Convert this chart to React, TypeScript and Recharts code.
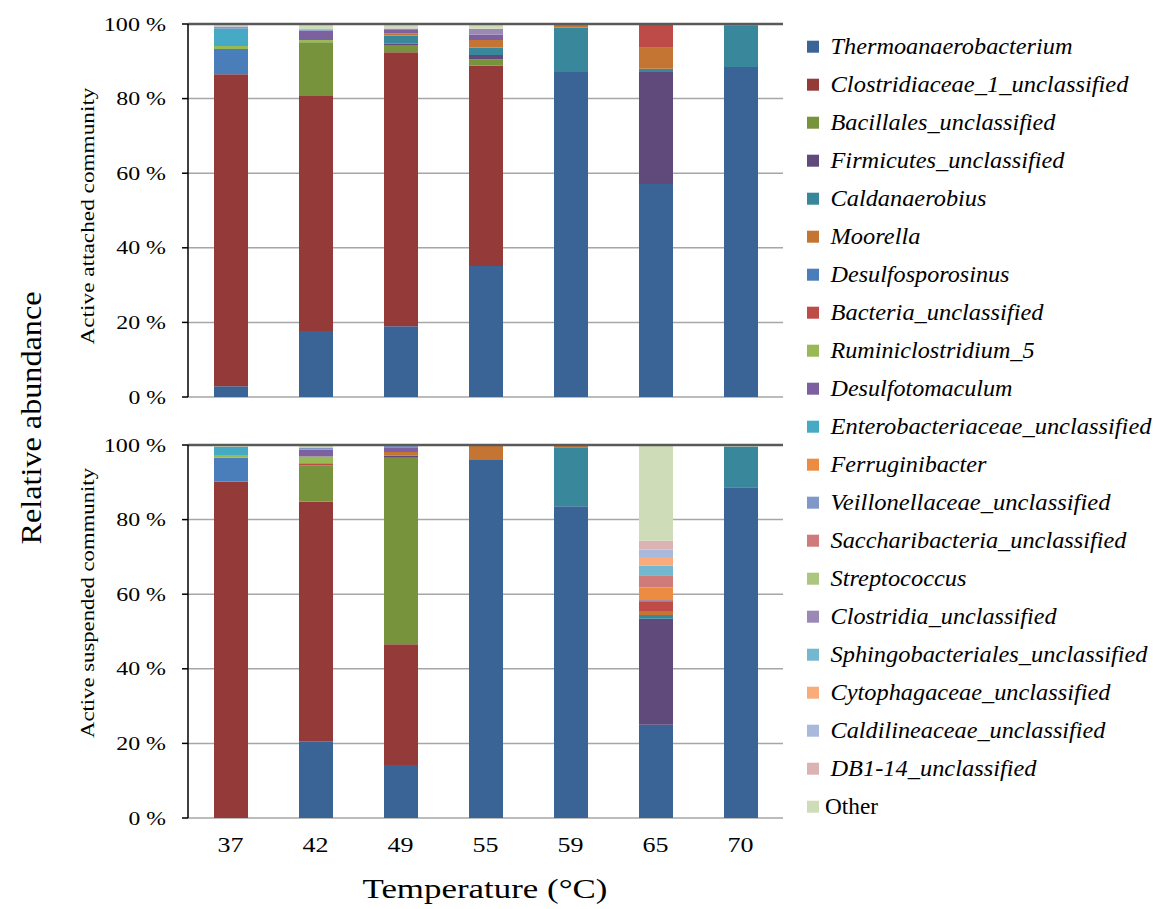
import React from "react";
import { BarChart, Bar, XAxis, YAxis, CartesianGrid, ReferenceLine } from "recharts";

const temps = ["37", "42", "49", "55", "59", "65", "70"];
const yTicks = [0, 20, 40, 60, 80, 100];

// series in stacking order (bottom -> top), same order as the legend
const seriesNames = [
  "Thermoanaerobacterium",
  "Clostridiaceae_1_unclassified",
  "Bacillales_unclassified",
  "Firmicutes_unclassified",
  "Caldanaerobius",
  "Moorella",
  "Desulfosporosinus",
  "Bacteria_unclassified",
  "Ruminiclostridium_5",
  "Desulfotomaculum",
  "Enterobacteriaceae_unclassified",
  "Ferruginibacter",
  "Veillonellaceae_unclassified",
  "Saccharibacteria_unclassified",
  "Streptococcus",
  "Clostridia_unclassified",
  "Sphingobacteriales_unclassified",
  "Cytophagaceae_unclassified",
  "Caldilineaceae_unclassified",
  "DB1-14_unclassified",
  "Other",
];

const seriesColors = [
  "#3b6496", "#943b3a", "#77933c", "#604a7b", "#38879a", "#c47533", "#4a7ebb",
  "#be4b48", "#98b954", "#7d60a0", "#46aac5", "#ec8b42", "#7f97c9", "#ce7b79",
  "#acc57f", "#9b89b5", "#74b8cf", "#f9ab7b", "#a9b9db", "#dcb3b3", "#cfdcb8",
];

// legend label widths in the reference (px)
const legendWidths = [
  242, 298, 225, 234, 156, 90, 179, 213, 204, 182, 321,
  156, 280, 296, 136, 226, 317, 280, 275, 206, 53,
];

// % relative abundance, active attached community
const attached = [
  [2.9, 17.7, 19.0, 35.1, 87.1, 57.1, 88.5],
  [83.6, 63.0, 73.4, 53.7, 0, 0, 0],
  [0, 14.4, 2.0, 1.7, 0, 0, 0],
  [0, 0, 0.3, 1.2, 0, 30.0, 0],
  [0, 0, 2.2, 2.0, 11.9, 0.9, 11.0],
  [0, 0, 0.6, 2.0, 0.7, 5.6, 0],
  [6.8, 0, 0, 0, 0, 0, 0],
  [0, 0, 0, 0, 0, 6.4, 0.5],
  [0.8, 0.6, 0, 0, 0, 0, 0],
  [0, 2.5, 0.9, 1.4, 0, 0, 0],
  [4.6, 0, 0, 0, 0, 0, 0],
  [0, 0, 0, 0, 0, 0, 0],
  [0.6, 0.4, 0, 0, 0, 0, 0],
  [0, 0, 0, 0, 0, 0, 0],
  [0, 0, 0, 0, 0, 0, 0],
  [0, 0, 0.4, 1.6, 0.3, 0, 0],
  [0, 0, 0, 0, 0, 0, 0],
  [0, 0, 0, 0, 0, 0, 0],
  [0, 0, 0, 0, 0, 0, 0],
  [0, 0, 0, 0, 0, 0, 0],
  [0.7, 1.4, 1.2, 1.3, 0, 0, 0],
];

// % relative abundance, active suspended community
const suspended = [
  [0, 20.6, 14.2, 96.2, 83.6, 25.0, 88.7],
  [90.2, 64.2, 32.4, 0, 0, 0, 0],
  [0, 9.8, 50.0, 0, 0, 0, 0],
  [0, 0, 0.6, 0, 0, 28.4, 0],
  [0, 0, 0, 0, 15.8, 1.0, 10.9],
  [0, 0, 0.9, 3.5, 0.5, 1.1, 0],
  [6.4, 0, 0, 0, 0, 0, 0],
  [0, 0.5, 0, 0, 0, 2.5, 0],
  [0.5, 1.8, 0, 0, 0, 0, 0],
  [0, 1.8, 1.3, 0, 0, 0.4, 0],
  [2.4, 0, 0, 0, 0, 0, 0],
  [0, 0, 0, 0, 0, 3.4, 0],
  [0, 0.6, 0.6, 0, 0, 0, 0],
  [0, 0, 0, 0, 0, 3.3, 0],
  [0, 0, 0, 0, 0, 0, 0],
  [0, 0, 0, 0, 0, 0, 0],
  [0, 0, 0, 0, 0, 2.5, 0],
  [0, 0, 0, 0, 0, 2.4, 0],
  [0, 0, 0, 0, 0, 2.0, 0],
  [0, 0, 0, 0, 0, 2.3, 0],
  [0.5, 0.7, 0, 0.3, 0.1, 25.7, 0.4],
];

const serif = { fontFamily: '"Times New Roman", Times, "Liberation Serif", serif' };

function buildRows(values: number[][]) {
  return temps.map((t, i) => {
    const row: Record<string, any> = { temp: t };
    seriesNames.forEach((_, s) => {
      row["s" + s] = values[s][i];
    });
    return row;
  });
}

const YTick = (props: any) => {
  const { x, y, payload } = props;
  const digits = String(payload.value).length;
  return (
    <text
      x={x}
      y={y}
      textAnchor="end"
      dominantBaseline="central"
      style={serif}
      fontSize={19}
      fill="#000"
      textLength={12.4 * digits + 25}
      lengthAdjust="spacingAndGlyphs"
    >
      {`${payload.value} %`}
    </text>
  );
};

const XTick = (props: any) => {
  const { x, y, payload } = props;
  return (
    <text
      x={x}
      y={y}
      textAnchor="middle"
      dominantBaseline="central"
      style={serif}
      fontSize={21}
      fill="#000"
      textLength={26}
      lengthAdjust="spacingAndGlyphs"
    >
      {payload.value}
    </text>
  );
};

function Panel({ values, bottom }: { values: number[][]; bottom: boolean }) {
  const rows = buildRows(values);
  const height = bottom ? 489 : 410;
  const margin = bottom
    ? { top: 25, right: 17, bottom: 51, left: 0 }
    : { top: 24, right: 17, bottom: 13, left: 0 };
  return (
    <BarChart width={800} height={height} data={rows} margin={margin} barSize={34}>
      <CartesianGrid vertical={false} stroke="#a6a6a6" strokeWidth={1.5} />
      {bottom && (
        <XAxis
          xAxisId="edge"
          type="number"
          domain={[0, 7]}
          ticks={[0, 1, 2, 3, 4, 5, 6, 7]}
          allowDataOverflow
          tick={false}
          tickSize={7}
          tickLine={{ stroke: "#000", strokeWidth: 1.5 }}
          axisLine={{ stroke: "#000", strokeWidth: 1.5 }}
          height={0}
        />
      )}
      <XAxis
        xAxisId="cat"
        dataKey="temp"
        tickLine={false}
        axisLine={bottom ? false : { stroke: "#000", strokeWidth: 1.5 }}
        tick={bottom ? <XTick /> : false}
        tickSize={0}
        tickMargin={27}
        height={bottom ? 40 : 0}
      />
      <YAxis
        domain={[0, 100]}
        ticks={yTicks}
        width={188}
        tickSize={6}
        tickMargin={16}
        tickLine={{ stroke: "#000", strokeWidth: 1.5 }}
        axisLine={{ stroke: "#000", strokeWidth: 1.5 }}
        tick={<YTick />}
      />
      <YAxis
        yAxisId="rb"
        orientation="right"
        domain={[0, 100]}
        width={0}
        tick={false}
        tickLine={false}
        axisLine={{ stroke: "#595959", strokeWidth: 1.5 }}
      />
      <ReferenceLine y={100} xAxisId="cat" stroke="#595959" strokeWidth={2.5} />
      {seriesNames.map((name, s) => (
        <Bar
          key={name}
          xAxisId="cat"
          dataKey={"s" + s}
          name={name}
          stackId="a"
          fill={seriesColors[s]}
          isAnimationActive={false}
        />
      ))}
    </BarChart>
  );
}

export default function App() {
  return (
    <div style={{ position: "absolute", left: 0, top: 0, width: 1156, height: 909, background: "#fff" }}>
      <div style={{ position: "absolute", left: 0, top: 0 }}>
        <Panel values={attached} bottom={false} />
      </div>
      <div style={{ position: "absolute", left: 0, top: 420 }}>
        <Panel values={suspended} bottom={true} />
      </div>
      <svg
        width={1156}
        height={909}
        style={{ position: "absolute", left: 0, top: 0, pointerEvents: "none" }}
      >
        <text
          transform="translate(30,418) rotate(-90)"
          textAnchor="middle"
          dominantBaseline="central"
          style={serif}
          fontSize={30}
          textLength={253}
          lengthAdjust="spacingAndGlyphs"
        >
          Relative abundance
        </text>
        <text
          transform="translate(87,216) rotate(-90)"
          textAnchor="middle"
          dominantBaseline="central"
          style={serif}
          fontSize={19}
          textLength={257}
          lengthAdjust="spacingAndGlyphs"
        >
          Active attached community
        </text>
        <text
          transform="translate(87,603) rotate(-90)"
          textAnchor="middle"
          dominantBaseline="central"
          style={serif}
          fontSize={19}
          textLength={270}
          lengthAdjust="spacingAndGlyphs"
        >
          Active suspended community
        </text>
        <text
          x={485}
          y={888}
          textAnchor="middle"
          dominantBaseline="central"
          style={serif}
          fontSize={28}
          textLength={245}
          lengthAdjust="spacingAndGlyphs"
        >
          Temperature (°C)
        </text>
        {seriesNames.map((name, i) => {
          const cy = 46.7 + i * 38;
          const isOther = name === "Other";
          return (
            <g key={name}>
              <rect x={807} y={cy - 6} width={12} height={12} fill={seriesColors[i]} />
              <text
                x={isOther ? 825 : 830.5}
                y={cy}
                dominantBaseline="central"
                style={serif}
                fontStyle={isOther ? "normal" : "italic"}
                fontSize={23}
                textLength={legendWidths[i]}
                lengthAdjust="spacingAndGlyphs"
              >
                {name}
              </text>
            </g>
          );
        })}
      </svg>
    </div>
  );
}
